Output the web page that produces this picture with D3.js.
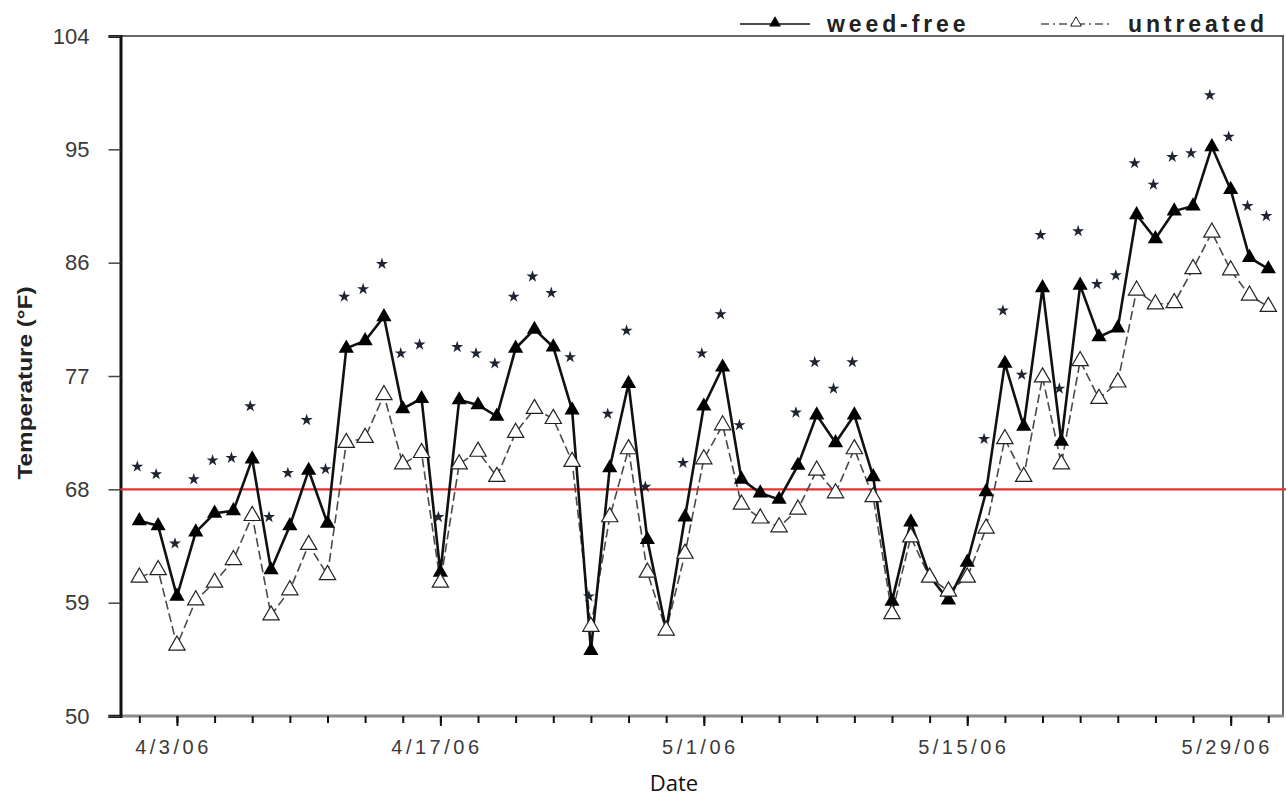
<!DOCTYPE html>
<html>
<head>
<meta charset="utf-8">
<script src="https://cdn.jsdelivr.net/npm/d3@7"></script>
<style>
  body { margin: 0; background: #fff; }
  svg { display: block; }
</style>
</head>
<body>
<svg id="chart" width="1286" height="801"></svg>
<script>

// daily readings, 4/1/06 .. 5/31/06
const weedFree = [65.5, 65.1, 59.5, 64.6, 66.1, 66.3, 70.4, 61.6, 65.1, 69.5,
  65.3, 79.2, 79.8, 81.7, 74.4, 75.2, 61.4, 75.1, 74.7, 73.8,
  79.2, 80.7, 79.3, 74.3, 55.2, 69.7, 76.4, 64.0, 56.8, 65.8,
  74.6, 77.7, 68.8, 67.7, 67.2, 69.9, 73.9, 71.7, 73.9, 69.0,
  59.1, 65.4, 61.1, 59.2, 62.2, 67.8, 78.0, 73.0, 84.0, 71.8,
  84.2, 80.1, 80.8, 89.8, 87.9, 90.1, 90.5, 95.2, 91.8, 86.4, 85.5];

const untreated = [61.0, 61.6, 55.6, 59.2, 60.6, 62.4, 65.9, 58.0, 60.0, 63.6,
  61.2, 71.7, 72.1, 75.5, 70.0, 70.9, 60.6, 70.0, 71.0, 69.0,
  72.5, 74.4, 73.6, 70.2, 57.1, 65.8, 71.2, 61.4, 56.8, 62.9,
  70.4, 73.1, 66.8, 65.7, 65.0, 66.4, 69.5, 67.7, 71.2, 67.4,
  58.1, 64.2, 61.0, 59.9, 61.0, 64.9, 72.0, 69.0, 76.9, 70.0,
  78.2, 75.2, 76.5, 83.8, 82.7, 82.8, 85.5, 88.4, 85.4, 83.4, 82.5];

// significance stars (null = no star that day)
const stars = [69.8, 69.2, 63.7, 68.8, 70.3, 70.5, 74.6, 65.8, 69.3, 73.5,
  69.6, 83.3, 83.9, 85.9, 78.8, 79.5, 65.8, 79.3, 78.8, 78.0,
  83.3, 84.9, 83.6, 78.5, 59.5, 74.0, 80.6, 68.2, null, 70.1,
  78.8, 81.9, 73.1, null, null, 74.1, 78.1, 76.0, 78.1, null,
  null, null, null, null, null, 72.0, 82.2, 77.1, 88.2, 76.0,
  88.5, 84.3, 85.0, 93.9, 92.2, 94.4, 94.7, 99.3, 96.0, 90.5, 89.7];

const yTicks = [50, 59, 68, 77, 86, 95, 104];
const dateLabels = ["4/3/06", "4/17/06", "5/1/06", "5/15/06", "5/29/06"];
const threshold = 68;

const parseDate = d3.timeParse("%m/%d/%y");
const days = d3.timeDay.range(new Date(2006, 3, 1), new Date(2006, 5, 1));

const width = 1286, height = 801;
const margin = {top: 36, right: 2, bottom: 85, left: 120.5};

const svg = d3.select("#chart");

const x = d3.scaleTime()
    .domain([new Date(2006, 2, 31), new Date(2006, 4, 31, 20)])
    .range([margin.left, width - margin.right]);

const y = d3.scaleLinear()
    .domain([50, 104])
    .range([height - margin.bottom, margin.top]);

const x0 = margin.left, x1 = width - margin.right;
const y0 = y(50), y1 = y(104);

// frame: top + right
svg.append("line")
    .attr("x1", x0).attr("x2", x1).attr("y1", y1).attr("y2", y1)
    .attr("stroke", "#333").attr("stroke-width", 1.5);
svg.append("line")
    .attr("x1", x1 - 1).attr("x2", x1 - 1).attr("y1", y1).attr("y2", y0)
    .attr("stroke", "#333").attr("stroke-width", 1.5);

// bottom axis: a tick every second day, longer ones under the labels
const majorDates = dateLabels.map(parseDate);
const minorDates = d3.timeDay.every(2).range(new Date(2006, 3, 1), new Date(2006, 5, 1));

svg.append("line")
    .attr("x1", x0 - 12).attr("x2", x1).attr("y1", y0).attr("y2", y0)
    .attr("stroke", "#8a8a8a").attr("stroke-width", 3);

svg.append("g")
    .attr("transform", `translate(0,${y0})`)
    .call(d3.axisBottom(x).tickValues(minorDates).tickSize(7).tickFormat(""))
    .call(g => g.select(".domain").remove())
    .call(g => g.selectAll(".tick line").attr("stroke", "#111").attr("stroke-width", 2));

svg.append("g")
    .attr("transform", `translate(0,${y0})`)
    .call(d3.axisBottom(x).tickValues(majorDates).tickSize(10)
      .tickFormat((d, i) => dateLabels[i]).tickPadding(14))
    .call(g => g.select(".domain").remove())
    .call(g => g.selectAll(".tick line").attr("stroke", "#111").attr("stroke-width", 2))
    .call(g => g.selectAll(".tick text")
      .attr("dx", -4)
      .style("font-family", "'Liberation Sans', Arial, sans-serif")
      .style("font-size", "20px")
      .style("letter-spacing", "3.5px")
      .attr("fill", "#3a3a3a"));

// left axis
svg.append("g")
    .attr("transform", `translate(${x0},0)`)
    .call(d3.axisLeft(y).tickValues(yTicks).tickSize(12).tickPadding(19))
    .call(g => g.select(".domain").attr("stroke", "#111").attr("stroke-width", 3))
    .call(g => g.selectAll(".tick line").attr("stroke", "#444").attr("stroke-width", 1.5))
    .call(g => g.selectAll(".tick text")
      .style("font-family", "'Liberation Sans', Arial, sans-serif")
      .style("font-size", "22px")
      .attr("fill", "#3a3a3a"));

// 68 F reference line
svg.append("line")
    .attr("x1", x0).attr("x2", width)
    .attr("y1", y(threshold)).attr("y2", y(threshold))
    .attr("stroke", "#e8312f").attr("stroke-width", 2.2);

// series
const seriesLine = d3.line()
    .x((d, i) => x(days[i]))
    .y(d => y(d));

svg.append("path")
    .datum(untreated)
    .attr("d", seriesLine)
    .attr("fill", "none")
    .attr("stroke", "#4a4a4a")
    .attr("stroke-width", 1.6)
    .attr("stroke-dasharray", "9,4");

svg.append("path")
    .datum(weedFree)
    .attr("d", seriesLine)
    .attr("fill", "none")
    .attr("stroke", "#111")
    .attr("stroke-width", 2.6);

svg.append("g")
  .selectAll("path")
  .data(weedFree)
  .join("path")
    .attr("d", d3.symbol().type(d3.symbolTriangle).size(100)())
    .attr("transform", (d, i) => `translate(${x(days[i])},${y(d)})`)
    .attr("fill", "#000");

svg.append("g")
  .selectAll("path")
  .data(untreated)
  .join("path")
    .attr("d", d3.symbol().type(d3.symbolTriangle).size(115)())
    .attr("transform", (d, i) => `translate(${x(days[i])},${y(d)})`)
    .attr("fill", "#fff")
    .attr("stroke", "#222")
    .attr("stroke-width", 1.2);

svg.append("g")
  .selectAll("path")
  .data(stars.map((v, i) => ({v, date: days[i]})).filter(d => d.v !== null))
  .join("path")
    .attr("d", d3.symbol().type(d3.symbolStar).size(45)())
    .attr("transform", d => `translate(${x(d.date) - 2},${y(d.v)})`)
    .attr("fill", "#1f2433");

// axis titles
svg.append("text")
    .attr("x", 674).attr("y", 791)
    .attr("text-anchor", "middle")
    .style("font-family", "'Open Sans', sans-serif")
    .style("font-size", "22px")
    .attr("fill", "#111")
    .text("Date");

svg.append("text")
    .attr("transform", "translate(32,383) rotate(-90)")
    .attr("text-anchor", "middle")
    .attr("textLength", 193)
    .attr("lengthAdjust", "spacingAndGlyphs")
    .style("font-family", "'Liberation Sans', Arial, sans-serif")
    .style("font-size", "21px")
    .style("font-weight", "700")
    .attr("fill", "#222")
    .text("Temperature (°F)");

// legend
const legend = [
  {label: "weed-free", lx: 740, tx: 827, fill: "#000", dash: null, w: 1.6},
  {label: "untreated", lx: 1041, tx: 1128, fill: "#fff", dash: "8,4,2,4", w: 1.4}
];

const lg = svg.append("g").selectAll("g").data(legend).join("g");

lg.append("line")
    .attr("x1", d => d.lx).attr("x2", d => d.lx + 70)
    .attr("y1", 24).attr("y2", 24)
    .attr("stroke", d => d.dash ? "#555" : "#111")
    .attr("stroke-width", d => d.w)
    .attr("stroke-dasharray", d => d.dash);

lg.append("path")
    .attr("d", d3.symbol().type(d3.symbolTriangle).size(50)())
    .attr("transform", d => `translate(${d.lx + 35},23)`)
    .attr("fill", d => d.fill)
    .attr("stroke", "#222")
    .attr("stroke-width", 1);

lg.append("text")
    .attr("x", d => d.tx).attr("y", 32)
    .style("font-family", "'Liberation Sans', Arial, sans-serif")
    .style("font-size", "23px")
    .style("font-weight", "700")
    .style("letter-spacing", "3.9px")
    .attr("fill", "#222")
    .text(d => d.label);

</script>
</body>
</html>
